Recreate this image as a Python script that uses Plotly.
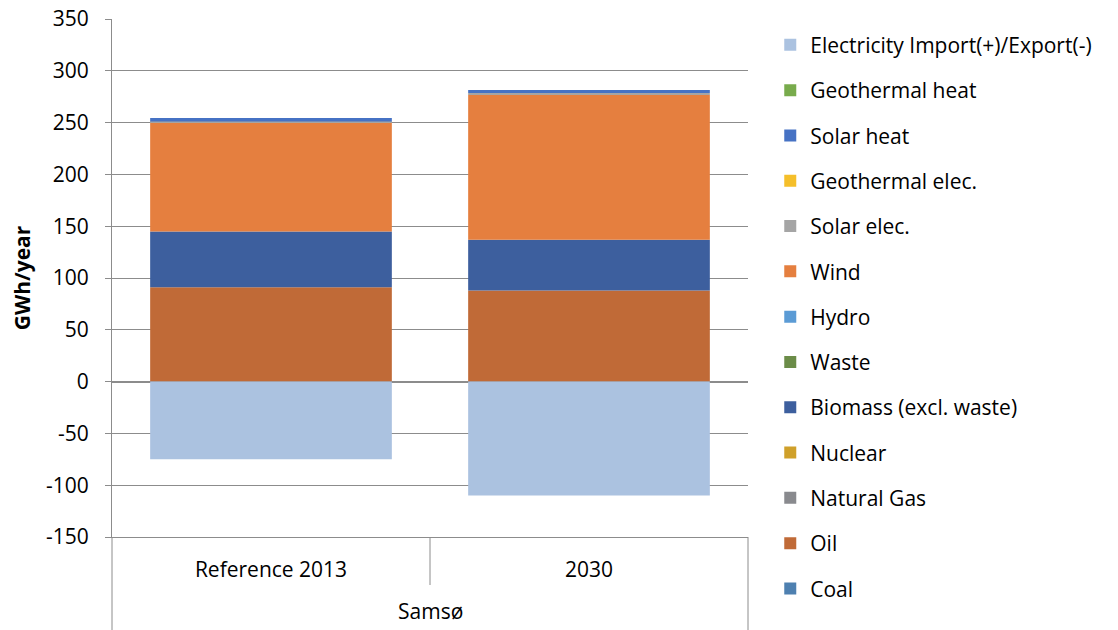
import plotly.graph_objects as go

FONT = "Open Sans"
GRID = "#8c8c8c"

group_label = "Samsø"
scenarios = ["Reference 2013", "2030"]

# stacking order, bottom to top
series = [
    "Coal", "Oil", "Natural Gas", "Nuclear", "Biomass (excl. waste)", "Waste",
    "Hydro", "Wind", "Solar elec.", "Geothermal elec.", "Solar heat",
    "Geothermal heat", "Electricity Import(+)/Export(-)",
]
coal = [0, 0]
oil = [91, 88]
natural_gas = [0, 0]
nuclear = [0, 0]
biomass = [54, 49]
waste = [0, 0]
hydro = [0, 0]
wind = [105, 140]
solar_elec = [1, 1.5]
geothermal_elec = [0, 0]
solar_heat = [3.5, 3]
geothermal_heat = [0, 0]
elec_import = [-75, -110]

y_ticks = [-150, -100, -50, 0, 50, 100, 150, 200, 250, 300, 350]
y_labels = ["-150", "-100", "-50", "0", "50", "100", "150", "200", "250", "300", "350"]

values = [coal, oil, natural_gas, nuclear, biomass, waste, hydro, wind,
          solar_elec, geothermal_elec, solar_heat, geothermal_heat, elec_import]
colors = ["#4e80b0", "#c06a37", "#898a8e", "#cfa02a", "#3d5f9e", "#6b8c48",
          "#5b9bd5", "#e57f3f", "#a5a5a5", "#f5bf2a", "#4672c4", "#78ab4c",
          "#abc2e0"]

fig = go.Figure()
n = len(series)
for i, (name, vals, col) in enumerate(zip(series, values, colors)):
    fig.add_trace(go.Bar(
        x=scenarios,
        y=vals,
        name=name,
        legendgroup=name,
        legendrank=n - i,  # legend lists top of stack first
        marker_color=col,
        marker_line_width=0,
    ))

# plot area is 518 px tall; the label box below it is 93 px
below = 93 / 518
fig.add_shape(type="line", xref="x domain", yref="y domain",
              x0=0, x1=0, y0=0, y1=-below, line=dict(color=GRID, width=1))
fig.add_shape(type="line", xref="x domain", yref="y domain",
              x0=1, x1=1, y0=0, y1=-below, line=dict(color=GRID, width=1))
fig.add_shape(type="line", xref="x domain", yref="y domain",
              x0=0.5, x1=0.5, y0=0, y1=-48 / 518, line=dict(color=GRID, width=1))
fig.add_annotation(text=group_label, xref="x domain", yref="y domain",
                   x=0.5, y=-90 / 518, showarrow=False,
                   font=dict(family=FONT, size=21, color="#000000"))

# the page body adds an 8 px offset, so the figure is 8 px smaller
fig.update_layout(
    width=1110,
    height=622,
    barmode="relative",
    bargap=0.24,
    plot_bgcolor="white",
    paper_bgcolor="white",
    font=dict(family=FONT, size=21, color="#000000"),
    margin=dict(l=104, r=370, t=11, b=93, autoexpand=False),
    legend=dict(
        x=1.035, y=0.989, xanchor="left", yanchor="top",
        traceorder="grouped",
        tracegroupgap=15,
        font=dict(family=FONT, size=21),
        itemwidth=30,
        maxheight=800,
    ),
)

fig.update_yaxes(
    range=[-150, 350],
    tickvals=y_ticks,
    ticktext=y_labels,
    showgrid=True,
    gridcolor=GRID,
    gridwidth=1,
    zeroline=True,
    zerolinecolor=GRID,
    zerolinewidth=2,
    showline=True,
    linecolor=GRID,
    linewidth=1,
    ticks="outside",
    ticklen=6,
    tickcolor=GRID,
    ticklabelstandoff=12,
    ticklabeloverflow="allow",
    automargin=False,
    title=dict(text="<b>GWh/year</b>", font=dict(family=FONT, size=21), standoff=10),
)

fig.update_xaxes(
    showline=True,
    linecolor=GRID,
    linewidth=1,
    ticks="",
    ticklabelstandoff=14,
    automargin=False,
)

fig.write_html("out.html")
